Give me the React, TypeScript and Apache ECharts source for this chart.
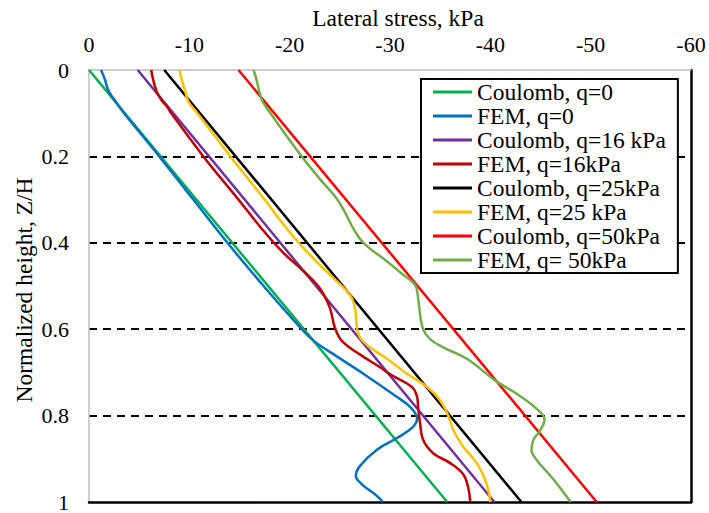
import React, { useEffect, useRef } from "react";
import * as echarts from "echarts";

const FONT = "Liberation Serif, Times New Roman, serif";

// Axis ticks
const stressTicks = { min: -60, max: 0, step: 10 };
const heightTicks = { min: 0, max: 1, step: 0.2 };

// Coulomb solutions (straight lines, top and toe of wall)
const coulombDepth = [0, 1];
const coulombQ0 = [0, -35.7];
const coulombQ16 = [-4.85, -40.4];
const coulombQ25 = [-7.5, -43.1];
const coulombQ50 = [-14.9, -50.6];

// FEM, q = 0
const femQ0Depth = [0, 0.023, 0.046, 0.065, 0.1, 0.2, 0.3, 0.4, 0.5, 0.6, 0.627, 0.663, 0.707, 0.757, 0.78, 0.807, 0.826, 0.852, 0.879, 0.917, 0.94, 0.959, 0.986, 1];
const femQ0 = [-1.2, -1.6, -1.9, -2.4, -3.5, -7.0, -10.4, -13.8, -17.4, -21.2, -22.4, -24.7, -27.6, -30.7, -32.0, -32.7, -32.3, -30.7, -28.7, -27.0, -26.6, -27.2, -28.7, -29.3];

// FEM, q = 16 kPa
const femQ16Depth = [0, 0.023, 0.05, 0.069, 0.084, 0.1, 0.2, 0.3, 0.367, 0.424, 0.466, 0.505, 0.55, 0.596, 0.627, 0.66, 0.688, 0.707, 0.734, 0.757, 0.78, 0.818, 0.856, 0.887, 0.91, 0.936, 0.967, 1];
const femQ16 = [-6.2, -6.4, -6.75, -7.2, -7.75, -8.2, -11.4, -14.9, -17.2, -19.4, -21.4, -23.0, -24.0, -24.5, -25.2, -27.1, -29.0, -30.2, -32.2, -32.7, -32.8, -33.0, -33.3, -34.3, -36.0, -37.3, -37.8, -38.0];

// FEM, q = 25 kPa
const femQ25Depth = [0, 0.023, 0.05, 0.073, 0.1, 0.2, 0.3, 0.367, 0.413, 0.451, 0.489, 0.52, 0.55, 0.596, 0.619, 0.642, 0.67, 0.7, 0.734, 0.765, 0.8, 0.833, 0.872, 0.91, 0.956, 1];
const femQ25 = [-9.0, -9.25, -9.6, -9.9, -10.8, -14.1, -17.5, -19.7, -21.4, -23.0, -24.7, -26.0, -26.5, -26.7, -27.0, -28.0, -29.8, -31.5, -33.7, -35.0, -35.8, -36.3, -37.3, -38.65, -39.6, -40.0];

// FEM, q = 50 kPa
const femQ50Depth = [0, 0.023, 0.053, 0.073, 0.099, 0.153, 0.2, 0.252, 0.298, 0.329, 0.367, 0.4, 0.443, 0.474, 0.497, 0.528, 0.566, 0.6, 0.623, 0.642, 0.669, 0.719, 0.749, 0.784, 0.81, 0.833, 0.856, 0.879, 0.902, 0.948, 1];
const femQ50 = [-16.4, -16.7, -17.0, -17.3, -18.05, -19.7, -21.2, -23.0, -24.7, -25.5, -26.35, -27.35, -29.7, -31.3, -32.5, -32.8, -33.0, -33.3, -34.0, -35.3, -37.7, -40.5, -42.6, -44.6, -45.4, -45.0, -44.3, -44.1, -44.6, -46.3, -48.0];

const seriesNames = [
  "Coulomb, q=0",
  "FEM, q=0",
  "Coulomb, q=16 kPa",
  "FEM, q=16kPa",
  "Coulomb, q=25kPa",
  "FEM, q=25 kPa",
  "Coulomb, q=50kPa",
  "FEM, q= 50kPa",
];
const seriesColors = ["#00B050", "#0070C0", "#7030A0", "#C00000", "#000000", "#FFC000", "#FF0000", "#70AD47"];
const seriesStress = [coulombQ0, femQ0, coulombQ16, femQ16, coulombQ25, femQ25, coulombQ50, femQ50];
const seriesDepth = [coulombDepth, femQ0Depth, coulombDepth, femQ16Depth, coulombDepth, femQ25Depth, coulombDepth, femQ50Depth];
const seriesIsFem = [false, true, false, true, false, true, false, true];

const xAxisTitle = "Lateral stress, kPa";
const yAxisTitle = "Normalized height, Z/H";

export default function App() {
  const ref = useRef<HTMLDivElement>(null);

  useEffect(() => {
    document.body.style.margin = "0";
    if (!ref.current) return;
    const chart = echarts.init(ref.current, undefined, { renderer: "svg" });

    const series = seriesNames.map((name, i) => ({
      name,
      type: "line",
      xAxisIndex: 0,
      yAxisIndex: 0,
      data: seriesDepth[i].map((z, k) => [seriesStress[i][k], z]),
      symbol: "none",
      smooth: seriesIsFem[i] ? 0.4 : false,
      lineStyle: { color: seriesColors[i], width: 2.5 },
      itemStyle: { color: seriesColors[i] },
    }));

    chart.setOption({
      animation: false,
      backgroundColor: "#ffffff",
      textStyle: { fontFamily: FONT },
      grid: { left: 89, top: 70, width: 602, height: 436 },
      xAxis: [
        {
          type: "value",
          position: "top",
          min: stressTicks.min,
          max: stressTicks.max,
          interval: stressTicks.step,
          inverse: true,
          axisLine: { show: true, onZero: false, lineStyle: { color: "#BFBFBF", width: 1.5 } },
          axisTick: { show: false },
          axisLabel: { fontFamily: FONT, fontSize: 22, color: "#000", margin: 15 },
          splitLine: { show: false },
        },
        {
          type: "value",
          position: "bottom",
          min: stressTicks.min,
          max: stressTicks.max,
          interval: stressTicks.step,
          inverse: true,
          axisLine: { show: true, onZero: false, lineStyle: { color: "#000", width: 2.5 } },
          axisTick: { show: false },
          axisLabel: { show: false },
          splitLine: { show: false },
        },
      ],
      yAxis: [
        {
          type: "value",
          position: "left",
          min: heightTicks.min,
          max: heightTicks.max,
          interval: heightTicks.step,
          inverse: true,
          axisLine: { show: true, onZero: false, lineStyle: { color: "#BFBFBF", width: 1.5 } },
          axisTick: { show: false },
          axisLabel: {
            fontFamily: FONT,
            fontSize: 22,
            color: "#000",
            margin: 20,
            formatter: (v: number) => String(Math.round(v * 10) / 10),
          },
          splitLine: {
            show: true,
            showMinLine: false,
            showMaxLine: false,
            lineStyle: { color: "#000", type: [8, 6], width: 1.8 },
          },
        },
        {
          type: "value",
          position: "right",
          min: heightTicks.min,
          max: heightTicks.max,
          interval: heightTicks.step,
          inverse: true,
          axisLine: { show: true, onZero: false, lineStyle: { color: "#000", width: 2.5 } },
          axisTick: { show: false },
          axisLabel: { show: false },
          splitLine: { show: false },
        },
      ],
      legend: {
        orient: "vertical",
        left: 421,
        top: 79,
        padding: [1, 12, 1, 12],
        icon: "rect",
        itemWidth: 39,
        itemHeight: 3,
        itemGap: 0,
        backgroundColor: "#ffffff",
        borderColor: "#000",
        borderWidth: 2,
        textStyle: { fontFamily: FONT, fontSize: 23.5, color: "#000", lineHeight: 24 },
        data: seriesNames,
      },
      graphic: [
        {
          type: "text",
          x: 398,
          y: 18,
          style: {
            text: xAxisTitle,
            fontFamily: FONT,
            fontSize: 23.5,
            fill: "#000",
            align: "center",
            verticalAlign: "middle",
          },
        },
        {
          type: "text",
          x: 24,
          y: 290,
          rotation: Math.PI / 2,
          style: {
            text: yAxisTitle,
            fontFamily: FONT,
            fontSize: 23.5,
            fill: "#000",
            align: "center",
            verticalAlign: "middle",
          },
        },
      ],
      series,
    });

    return () => chart.dispose();
  }, []);

  return <div ref={ref} style={{ width: 709, height: 513 }} />;
}
